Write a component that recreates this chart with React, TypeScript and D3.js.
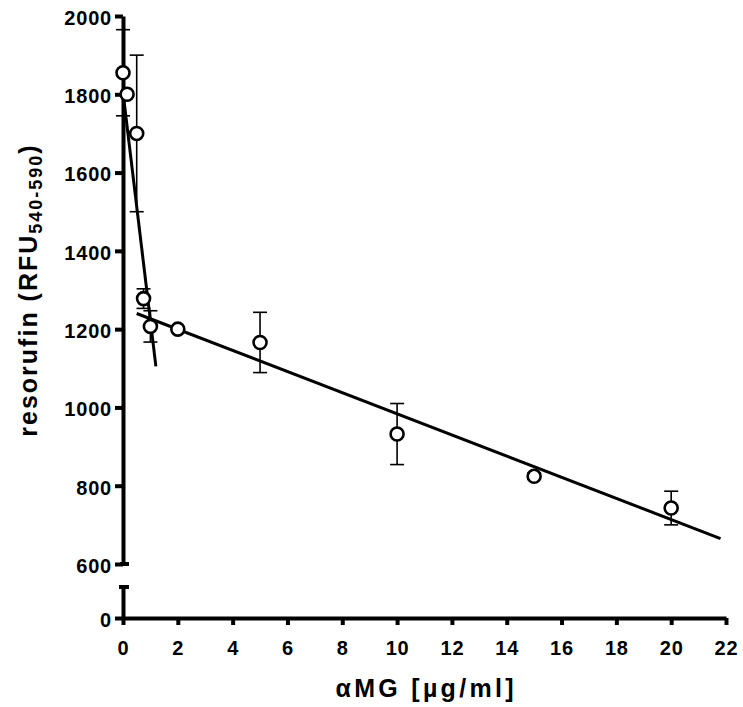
import React, { useEffect, useRef } from "react";
import * as d3 from "d3";

// concentration (µg/ml), mean RFU and error (SD)
const concentrations = [0, 0.15, 0.5, 0.75, 1, 2, 5, 10, 15, 20];
const rfuMeans = [1855, 1800, 1700, 1278, 1207, 1200, 1166, 932, 824, 743];
const rfuErrors = [110, 0, 200, 25, 40, 0, 77, 78, 8, 43];

// two fitted regression lines: [x start, y start, x end, y end]
const steepFit = [0, 1805, 1.2, 1105];
const shallowFit = [0.5, 1240, 21.8, 665];

const xTicks = d3.range(0, 23, 2);
const yTicksUpper = d3.range(600, 2001, 200);
const yTicksLower = [0];

const font = "Arial, 'Liberation Sans', Helvetica, sans-serif";

function drawChart(el: SVGSVGElement) {
  const svg = d3.select(el);
  svg.selectAll("*").remove();

  const x = d3.scaleLinear().domain([0, 22]).range([123, 726]);
  const yUp = d3.scaleLinear().domain([600, 2000]).range([564, 16]);
  const yLow = d3.scaleLinear().domain([0, 80]).range([618, 587]);
  const y = (v: number) => (v >= 600 ? yUp(v) : yLow(v));

  const styleTicks = (g: any) => {
    g.select(".domain").attr("stroke-width", 4).attr("stroke", "#000");
    g.selectAll(".tick line").attr("stroke-width", 4).attr("stroke", "#000");
    g.selectAll(".tick text")
      .attr("font-family", font)
      .attr("font-weight", "bold")
      .attr("font-size", 20)
      .attr("letter-spacing", 0.8)
      .attr("fill", "#000");
  };

  // Y axis, upper part
  const gUp = svg
    .append("g")
    .attr("transform", `translate(${x(0)},0)`)
    .call(
      d3
        .axisLeft(yUp)
        .tickValues(yTicksUpper)
        .tickFormat(d3.format("d"))
        .tickSize(8)
        .tickSizeOuter(0)
        .tickPadding(3)
    );
  // Y axis, lower part
  const gLow = svg
    .append("g")
    .attr("transform", `translate(${x(0)},0)`)
    .call(
      d3
        .axisLeft(yLow)
        .tickValues(yTicksLower)
        .tickFormat(d3.format("d"))
        .tickSize(8)
        .tickSizeOuter(0)
        .tickPadding(3)
    );
  styleTicks(gUp);
  styleTicks(gLow);
  gUp.selectAll(".tick text").attr("dy", "0.42em");
  gLow.selectAll(".tick text").attr("dy", "0.42em");

  // break caps
  svg
    .append("line")
    .attr("x1", x(0) - 3)
    .attr("x2", x(0) + 6)
    .attr("y1", yUp(600))
    .attr("y2", yUp(600))
    .attr("stroke", "#000")
    .attr("stroke-width", 4);
  svg
    .append("line")
    .attr("x1", x(0) - 4)
    .attr("x2", x(0) + 6)
    .attr("y1", yLow(80))
    .attr("y2", yLow(80))
    .attr("stroke", "#000")
    .attr("stroke-width", 4);

  // X axis
  const gx = svg
    .append("g")
    .attr("transform", `translate(0,${yLow(0)})`)
    .call(d3.axisBottom(x).tickValues(xTicks).tickSize(7).tickSizeOuter(0).tickPadding(16));
  styleTicks(gx);

  // regression lines
  [steepFit, shallowFit].forEach((f) => {
    svg
      .append("line")
      .attr("x1", x(f[0]))
      .attr("y1", y(f[1]))
      .attr("x2", x(f[2]))
      .attr("y2", y(f[3]))
      .attr("stroke", "#000")
      .attr("stroke-width", 3);
  });

  // error bars
  const pts = concentrations.map((c, i) => ({ c, m: rfuMeans[i], e: rfuErrors[i] }));
  const eb = svg
    .append("g")
    .selectAll("g")
    .data(pts.filter((d) => d.e > 0))
    .enter()
    .append("g")
    .attr("stroke", "#000")
    .attr("stroke-width", 1.6);
  eb.append("line")
    .attr("x1", (d) => x(d.c))
    .attr("x2", (d) => x(d.c))
    .attr("y1", (d) => y(d.m + d.e))
    .attr("y2", (d) => y(d.m - d.e));
  [1, -1].forEach((s) => {
    eb.append("line")
      .attr("x1", (d) => x(d.c) - 7)
      .attr("x2", (d) => x(d.c) + 7)
      .attr("y1", (d) => y(d.m + s * d.e))
      .attr("y2", (d) => y(d.m + s * d.e));
  });

  // points
  svg
    .append("g")
    .selectAll("circle")
    .data(pts)
    .enter()
    .append("circle")
    .attr("cx", (d) => x(d.c))
    .attr("cy", (d) => y(d.m))
    .attr("r", 6.5)
    .attr("fill", "#fff")
    .attr("stroke", "#000")
    .attr("stroke-width", 2.6);

  // axis titles
  svg
    .append("text")
    .attr("x", (x(0) + x(22)) / 2)
    .attr("y", 697)
    .attr("text-anchor", "middle")
    .attr("font-family", font)
    .attr("font-weight", "bold")
    .attr("font-size", 25)
    .attr("textLength", 178)
    .attr("lengthAdjust", "spacing")
    .text("\u03b1MG [\u00b5g/ml]");

  const yl = svg
    .append("text")
    .attr("transform", `translate(37,${(yUp(600) + yUp(2000)) / 2}) rotate(-90)`)
    .attr("text-anchor", "middle")
    .attr("font-family", font)
    .attr("font-weight", "bold")
    .attr("font-size", 25)
    .attr("letter-spacing", 2);
  yl.append("tspan").text("resorufin (RFU");
  yl.append("tspan").attr("font-size", 18).attr("dy", 5).text("540-590");
  yl.append("tspan").attr("dy", -5).text(")");
}

export default function App() {
  const ref = useRef<SVGSVGElement>(null);
  useEffect(() => {
    document.body.style.margin = "0";
    if (ref.current) drawChart(ref.current);
  }, []);
  return <svg ref={ref} width={743} height={707} style={{ display: "block", background: "#fff" }} />;
}
